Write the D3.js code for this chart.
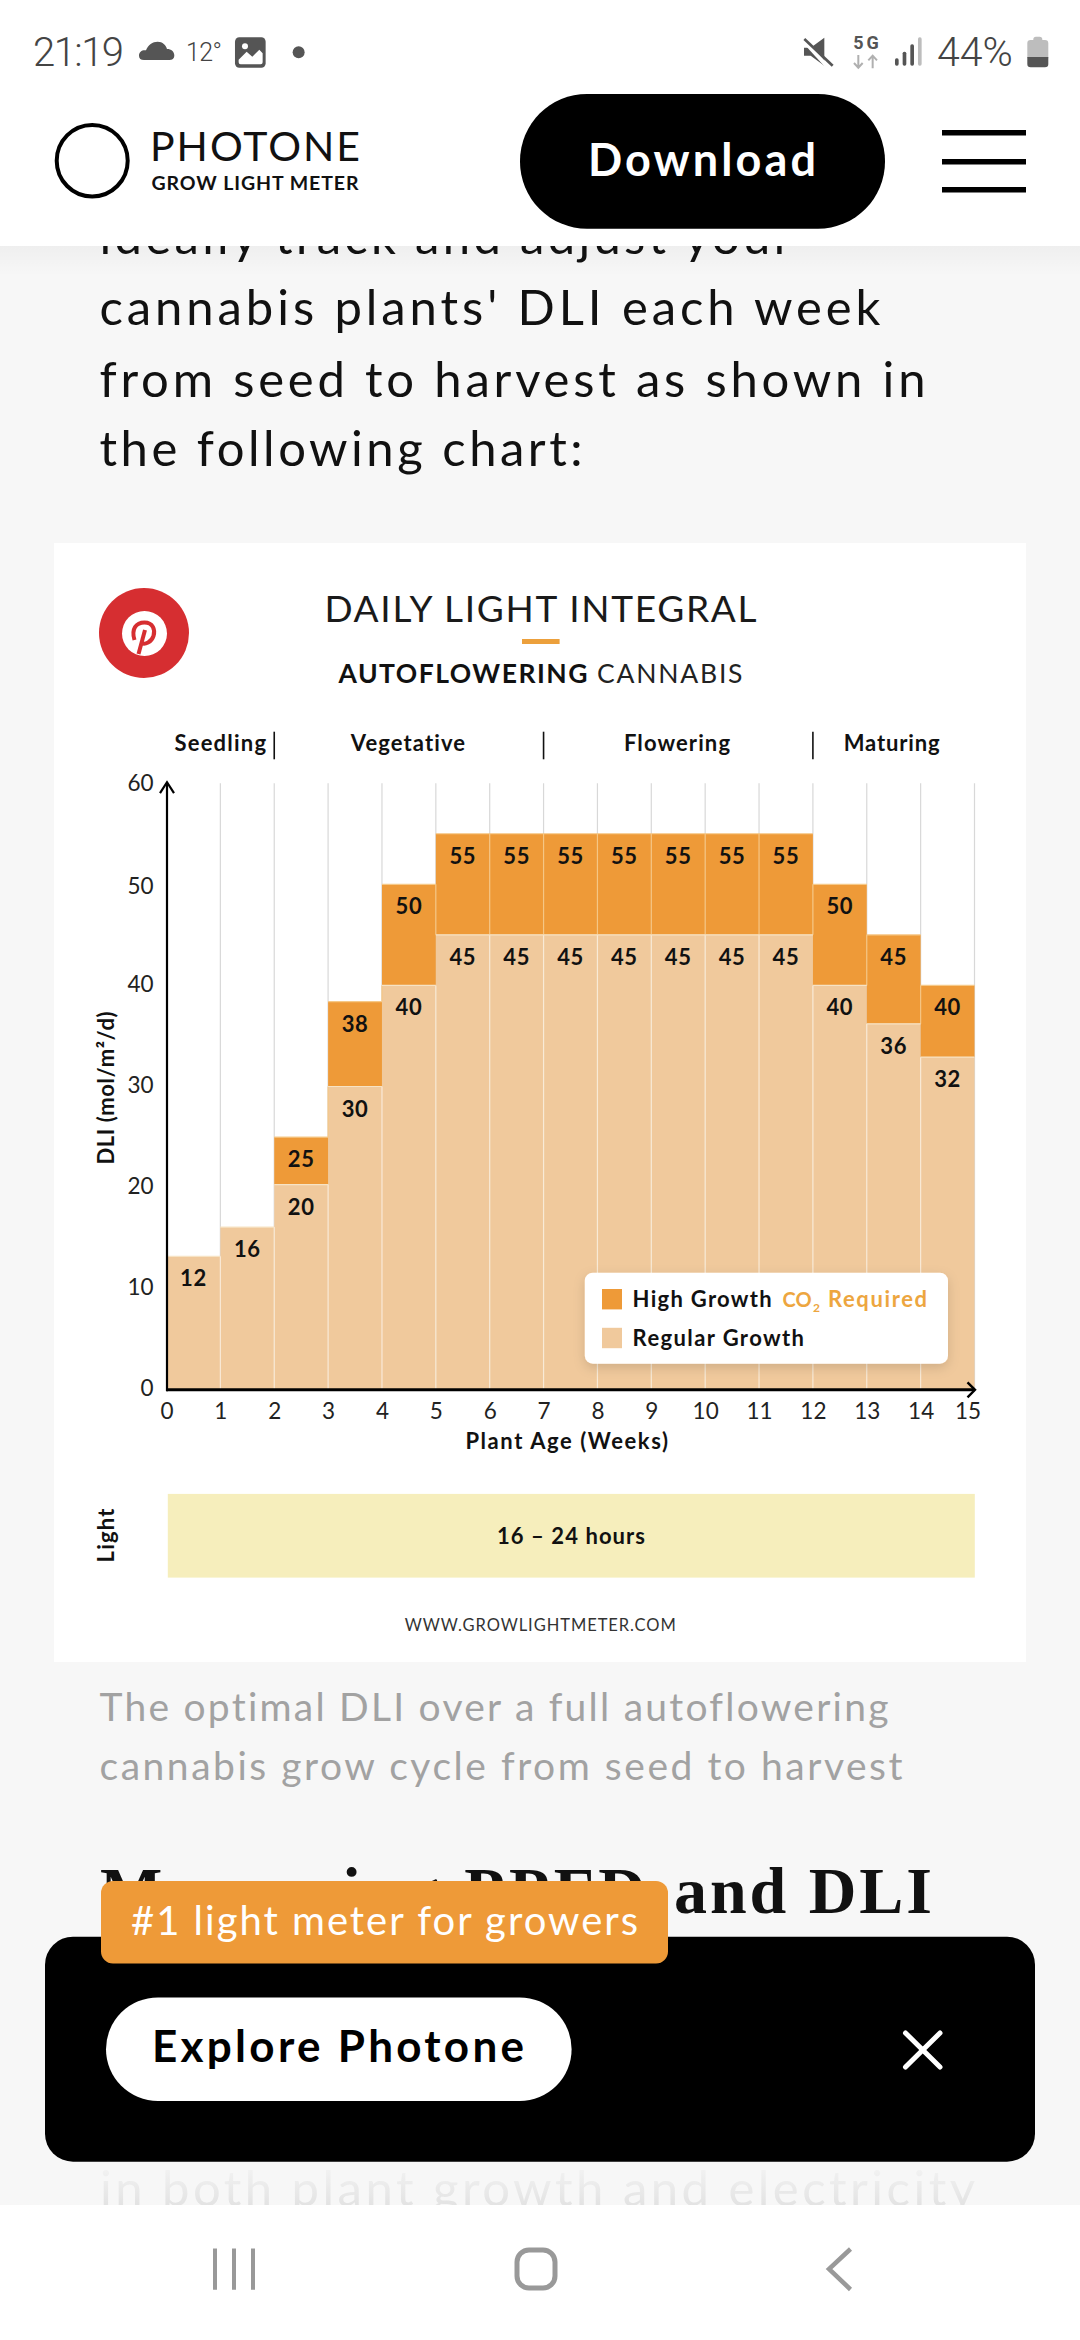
<!DOCTYPE html>
<html><head><meta charset="utf-8">
<style>html,body{margin:0;padding:0;background:#f7f7f7}svg{display:block}text{font-variant-ligatures:none}</style>
<script src="https://cdn.jsdelivr.net/npm/d3@7/dist/d3.min.js"></script>
</head><body><div id="c"></div>
<script>
// ---- data ----
const weeks = [0,1,2,3,4,5,6,7,8,9,10,11,12,13,14];
const regularTop = [13.2,16.1,20.3,30,40,45,45,45,45,45,45,45,40,36.2,32.9];
const highTop = [null,null,25,38.4,50,55,55,55,55,55,55,55,50,45,40];
const regularLabels = [12,16,20,30,40,45,45,45,45,45,45,45,40,36,32];
const highLabels = [null,null,25,38,50,55,55,55,55,55,55,55,50,45,40];
const xTicks = [0,1,2,3,4,5,6,7,8,9,10,11,12,13,14,15];
const yTicks = [0,10,20,30,40,50,60];
const phaseNames = ["Seedling","Vegetative","Flowering","Maturing"];
const phaseDividers = [2,7,12];
const bodyLines = ["ideally track and adjust your","cannabis plants' DLI each week","from seed to harvest as shown in","the following chart:"];
const captionLines = ["The optimal DLI over a full autoflowering","cannabis grow cycle from seed to harvest"];

// ---- layout ----
const SANS = "Lato, 'Noto Sans', sans-serif";
const C = {high:"#ee9a38", regular:"#f0c99c", ink:"#111", grid:"#d8d8d8"};
const svg = d3.select("#c").append("svg").attr("width",1080).attr("height",2340).attr("viewBox","0 0 1080 2340");
const defs = svg.append("defs");
const sh = defs.append("filter").attr("id","sh").attr("x","-10%").attr("y","-20%").attr("width","120%").attr("height","150%");
sh.append("feDropShadow").attr("dx",0).attr("dy",4).attr("stdDeviation",6).attr("flood-color","#000").attr("flood-opacity",.14);
const g1 = defs.append("linearGradient").attr("id","hs").attr("x1",0).attr("x2",0).attr("y1",0).attr("y2",1);
g1.append("stop").attr("offset",0).attr("stop-color","#000").attr("stop-opacity",.035);
g1.append("stop").attr("offset",1).attr("stop-color","#000").attr("stop-opacity",0);
const g2 = defs.append("linearGradient").attr("id","fade").attr("x1",0).attr("x2",0).attr("y1",0).attr("y2",1);
g2.append("stop").attr("offset",0).attr("stop-color","#f7f7f7").attr("stop-opacity",.9);
g2.append("stop").attr("offset",1).attr("stop-color","#f7f7f7").attr("stop-opacity",.2);

function T(p,str,x,y,o={}){
  const t = p.append("text").attr("x",x).attr("y",y).text(str)
    .attr("font-family",o.ff||SANS).attr("font-size",o.fs||20).attr("font-weight",o.fw||400)
    .attr("fill",o.fill||C.ink).attr("text-anchor",o.a||"start");
  if(o.len) t.attr("textLength",o.len).attr("lengthAdjust","spacing");
  return t;
}
function R(p,x,y,w,h,fill,r=0){return p.append("rect").attr("x",x).attr("y",y).attr("width",w).attr("height",h).attr("fill",fill).attr("rx",r).attr("ry",r);}

// page
R(svg,0,0,1080,2340,"#f7f7f7");
[[bodyLines[0],254,692],[bodyLines[1],325,781],[bodyLines[2],396.5,826],[bodyLines[3],466,483]].forEach(d=>{
  T(svg,d[0],99.5,d[1],{fs:49,len:d[2],fill:"#111"});
});

// card
R(svg,54,543,972,1119,"#fff");

const x = d3.scaleLinear().domain([0,15]).range([166.5,974.5]);
const y = d3.scaleLinear().domain([0,60]).range([1389.8,783.2]);
const chart = svg.append("g");

// titles
T(chart,"DAILY LIGHT INTEGRAL",540.5,621.7,{fs:37,fw:400,fill:"#1a1a1a",a:"middle",len:432});
R(chart,522,639,37.6,5,"#eca03c");
T(chart,"AUTOFLOWERING",338.5,682.7,{fs:26.5,fw:700,len:249});
T(chart,"CANNABIS",597,682.7,{fs:26.5,fw:400,fill:"#222",len:145.5});

// pinterest badge
const pin = chart.append("g");
pin.append("circle").attr("cx",144).attr("cy",633).attr("r",45).attr("fill","#d62e31");
pin.append("circle").attr("cx",144.5).attr("cy",633.5).attr("r",22.5).attr("fill","#fff");
pin.append("path").attr("d","M134.5,640 C131,629 136,622.5 144.5,622.5 C153,622.5 155.5,630 153.5,636 C151.5,642 145,645 141.5,643")
  .attr("fill","none").attr("stroke","#d62e31").attr("stroke-width",4);
pin.append("path").attr("d","M145,630 L138.5,654").attr("fill","none").attr("stroke","#d62e31").attr("stroke-width",4);

// phases
const phaseX = [[174.5,91.5],[350.8,114.2],[624,106],[843.7,96]];
phaseNames.forEach((n,i)=>T(chart,n,phaseX[i][0],751,{fs:22,fw:700,len:phaseX[i][1]}));
chart.selectAll("line.div").data(phaseDividers).join("line").attr("class","div")
  .attr("x1",d=>x(d)).attr("x2",d=>x(d)).attr("y1",731.7).attr("y2",759.3).attr("stroke","#111").attr("stroke-width",1.6);

// grid
chart.selectAll("line.grid").data(xTicks.slice(1)).join("line").attr("class","grid")
  .attr("x1",d=>x(d)).attr("x2",d=>x(d)).attr("y1",y(60)).attr("y2",y(0)).attr("stroke",C.grid).attr("stroke-width",1.2);

// bars
chart.selectAll("rect.reg").data(weeks).join("rect").attr("class","reg")
  .attr("x",d=>x(d)).attr("width",d=>x(d+1)-x(d)).attr("y",d=>y(regularTop[d])).attr("height",d=>y(0)-y(regularTop[d])).attr("fill",C.regular);
const highWeeks = weeks.filter(d=>highTop[d]!==null);
chart.selectAll("rect.high").data(highWeeks).join("rect").attr("class","high")
  .attr("x",d=>x(d)).attr("width",d=>x(d+1)-x(d)).attr("y",d=>y(highTop[d])).attr("height",d=>y(regularTop[d])-y(highTop[d])).attr("fill",C.high);
// pale edges
chart.selectAll("line.sepR").data(weeks.slice(0,14)).join("line").attr("class","sepR")
  .attr("x1",d=>x(d+1)).attr("x2",d=>x(d+1)).attr("y1",d=>y(regularTop[d]<regularTop[d+1]?regularTop[d]:regularTop[d+1])).attr("y2",y(0))
  .attr("stroke","#f9ead6").attr("stroke-width",1.2);
chart.selectAll("line.sepH").data(highWeeks.filter(d=>d<14&&highTop[d+1]!==null)).join("line").attr("class","sepH")
  .attr("x1",d=>x(d+1)).attr("x2",d=>x(d+1)).attr("y1",d=>y(Math.min(highTop[d],highTop[d+1]))).attr("y2",d=>y(Math.max(regularTop[d],regularTop[d+1])))
  .attr("stroke","#f5c684").attr("stroke-width",1.2);
chart.selectAll("line.topR").data(weeks).join("line").attr("class","topR")
  .attr("x1",d=>x(d)).attr("x2",d=>x(d+1)).attr("y1",d=>y(regularTop[d])).attr("y2",d=>y(regularTop[d])).attr("stroke","#f7e3c4").attr("stroke-width",1.2);
chart.selectAll("line.topH").data(highWeeks).join("line").attr("class","topH")
  .attr("x1",d=>x(d)).attr("x2",d=>x(d+1)).attr("y1",d=>y(highTop[d])).attr("y2",d=>y(highTop[d])).attr("stroke","#f6c988").attr("stroke-width",1.2);

// bar labels
const valStyle = s=>s.attr("text-anchor","middle").attr("font-family",SANS).attr("font-size",22).attr("font-weight",700).attr("fill","#111").attr("letter-spacing",.6);
valStyle(chart.selectAll("text.rv").data(weeks).join("text").attr("class","rv")
  .attr("x",d=>(x(d)+x(d+1))/2).attr("y",d=>y(regularTop[d])+30).text(d=>regularLabels[d]));
valStyle(chart.selectAll("text.hv").data(highWeeks).join("text").attr("class","hv")
  .attr("x",d=>(x(d)+x(d+1))/2).attr("y",d=>y(highTop[d])+30).text(d=>highLabels[d]));

// axes
const axB = chart.append("g").attr("transform",`translate(0,${y(0)})`)
  .call(d3.axisBottom(x).tickValues(xTicks).tickSize(0).tickPadding(12).tickFormat(d3.format("d")));
const axL = chart.append("g").attr("transform",`translate(${x(0)},0)`)
  .call(d3.axisLeft(y).tickValues(yTicks).tickSize(0).tickPadding(13).tickFormat(d3.format("d")));
[axB,axL].forEach(a=>{a.select(".domain").remove();
  a.selectAll("text").attr("font-family",SANS).attr("font-size",22.5).attr("fill","#222").attr("font-weight",400);});
axB.selectAll("text").attr("dy",null).attr("y",29);
axB.selectAll("text").filter(d=>d===15).attr("dx",-7);
axL.selectAll("text").attr("dy","0.34em").attr("y",d=>d===60?0:(d===50?1.7:-2));
chart.append("line").attr("x1",x(0)).attr("x2",x(15)).attr("y1",y(0)).attr("y2",y(0)).attr("stroke","#000").attr("stroke-width",3);
chart.append("line").attr("x1",x(0)+.5).attr("x2",x(0)+.5).attr("y1",y(60)).attr("y2",y(0)+1.5).attr("stroke","#000").attr("stroke-width",2.2);
chart.append("path").attr("d",`M${x(0)-6.5},${y(60)+10} L${x(0)+.5},${y(60)-1} L${x(0)+7.5},${y(60)+10}`).attr("fill","none").attr("stroke","#000").attr("stroke-width",2.2);
chart.append("path").attr("d",`M${x(15)-7},${y(0)-7.5} L${x(15)+.5},${y(0)} L${x(15)-7},${y(0)+7.5}`).attr("fill","none").attr("stroke","#000").attr("stroke-width",2.4);

T(chart,"Plant Age (Weeks)",465.4,1449,{fs:22,fw:700,len:202.6});
T(chart,"DLI (mol/m²/d)",0,0,{fs:22,fw:700,a:"middle",len:153}).attr("transform","translate(114,1088) rotate(-90)");

// legend
R(chart,584.8,1272.7,363.2,91,"#fff",8).attr("filter","url(#sh)");
R(chart,602,1289,20,20.4,C.high);
R(chart,602,1327.8,20,20.4,C.regular);
T(chart,"High Growth",632.6,1307.3,{fs:22,fw:700,len:139});
T(chart,"CO",782.6,1307.3,{fs:20,fw:700,fill:"#eda63f"});
T(chart,"2",813,1312,{fs:12,fw:700,fill:"#eda63f"});
T(chart,"Required",828,1307.3,{fs:22,fw:700,fill:"#eda63f",len:99});
T(chart,"Regular Growth",632.6,1346,{fs:22,fw:700,len:171.4});

// light band
R(chart,x(0)+1.3,1493.9,x(15)-x(0)-1,83.7,"#f6eebc");
T(chart,"16 – 24 hours",497,1544,{fs:22,fw:700,len:148});
T(chart,"Light",0,0,{fs:22,fw:700,a:"middle",len:54}).attr("transform","translate(114,1535.5) rotate(-90)");
T(chart,"WWW.GROWLIGHTMETER.COM",404.8,1631,{fs:16.5,fw:400,fill:"#333",len:271});

// below the card
T(svg,captionLines[0],99.5,1721,{fs:39,fill:"#a2a2a2",len:789});
T(svg,captionLines[1],99.5,1780,{fs:39,fill:"#a2a2a2",len:803});
const SERIF = "'Liberation Serif', serif";
T(svg,"Measuring PPFD",100,1913,{ff:SERIF,fs:66,fw:700,fill:"#111",len:546});
T(svg,"and DLI",674,1913,{ff:SERIF,fs:66,fw:700,fill:"#111",len:258});
T(svg,"in both plant growth and electricity",100,2206,{fs:49,fill:"#dedede",len:875});
R(svg,0,2162,1080,43,"url(#fade)");

// bottom banner
R(svg,45,1936.7,990,225,"#000",28);
R(svg,101,1881,567,82.5,C.high,12);
T(svg,"#1 light meter for growers",131,1935,{fs:40,fill:"#fff",len:507});
R(svg,106,1997.4,465.6,103.6,"#fff",52);
T(svg,"Explore Photone",152,2062,{fs:44,fw:700,fill:"#000",len:372});
svg.append("path").attr("d","M905.5,2033 L940,2067 M940,2033 L905.5,2067").attr("stroke","#fff").attr("stroke-width",5).attr("stroke-linecap","round");

// nav bar
R(svg,0,2205,1080,135,"#fff");
svg.append("path").attr("d","M215,2248.5 V2289.7 M234,2248.5 V2289.7 M253,2248.5 V2289.7").attr("stroke","#999").attr("stroke-width",4);
svg.append("rect").attr("x",517).attr("y",2250).attr("width",38).attr("height",38).attr("rx",12).attr("fill","none").attr("stroke","#999").attr("stroke-width",5);
svg.append("path").attr("d","M850.5,2249 L829,2269 L850.5,2289.5").attr("fill","none").attr("stroke","#999").attr("stroke-width",4.5);

// header
R(svg,0,246,1080,30,"url(#hs)");
R(svg,0,0,1080,246,"#fff");
svg.append("ellipse").attr("cx",92.2).attr("cy",160.7).attr("rx",35.5).attr("ry",35.8).attr("fill","none").attr("stroke","#000").attr("stroke-width",4);
T(svg,"PHOTONE",150,160.7,{fs:41,fw:400,fill:"#111",len:210});
T(svg,"GROW LIGHT METER",151.5,190,{fs:19.5,fw:700,fill:"#111",len:207});
R(svg,520,94,365,134.7,"#000",67);
T(svg,"Download",588,176,{fs:45,fw:700,fill:"#fff",len:228});
R(svg,942,130,84,5.5,"#000");R(svg,942,159,84,5.5,"#000");R(svg,942,187,84,5.5,"#000");

// status bar
const RB = "Roboto, sans-serif", ST = "#555";
T(svg,"21:19",33,65.7,{ff:RB,fs:40,fw:300,fill:"#444",len:91});
T(svg,"12°",186,61,{ff:RB,fs:25,fw:300,fill:"#444",len:36});
const sl = svg.append("g").attr("transform","translate(20,25) scale(.3333)");
sl.append("path").attr("fill",ST).attr("d","M357,92 C357,80 367,74 378,76 C384,60 398,50 413,50 C428,50 438,60 441,72 C454,72 463,80 463,92 C463,100 457,105 448,105 L372,105 C362,105 357,100 357,92 Z");
sl.append("rect").attr("x",645).attr("y",37).attr("width",92).attr("height",91).attr("rx",13).attr("fill",ST);
sl.append("circle").attr("cx",675).attr("cy",64).attr("r",9).attr("fill","#fff");
sl.append("path").attr("fill","#fff").attr("d","M656,104 L680,80 L697,95 L718,74 L728,85 L728,112 Q728,118 722,118 L662,118 Q656,118 656,112 Z");
sl.append("circle").attr("cx",836).attr("cy",82).attr("r",18).attr("fill",ST);
const sr = svg.append("g").attr("transform","translate(790,25) scale(.3333)");
sr.append("path").attr("fill",ST).attr("d","M42,68 L62,68 L103,38 L103,122 L62,92 L42,92 Z");
sr.append("path").attr("stroke","#fff").attr("stroke-width",12).attr("d","M35,40 L115,128").attr("fill","none");
sr.append("path").attr("stroke",ST).attr("stroke-width",8).attr("d","M43,42 L128,122").attr("fill","none");
T(sr,"5G",190,72,{ff:RB,fs:54,fw:700,fill:ST,len:76});
sr.append("path").attr("fill","none").attr("stroke","#b0b0b0").attr("stroke-width",6).attr("d","M205,90 V128 M192,114 L205,128 L218,114 M248,130 V92 M235,106 L248,92 L261,106");
[[315,100,ST],[338,80,ST],[361,58,ST],[384,37,"#bdbdbd"]].forEach(b=>{
  sr.append("rect").attr("x",b[0]).attr("y",b[1]).attr("width",11).attr("height",122-b[1]).attr("rx",5).attr("fill",b[2]);
});
T(svg,"44%",937,65.7,{ff:RB,fs:41,fw:300,fill:"#444"});
sr.append("path").attr("fill","#bdbdbd").attr("d","M730,43 Q730,35 738,35 L749,35 Q757,35 757,43 L757,45 L765,45 Q775,45 775,55 L775,100 L712,100 L712,55 Q712,45 722,45 L730,45 Z");
sr.append("path").attr("fill",ST).attr("d","M712,96 L775,96 L775,117 Q775,127 765,127 L722,127 Q712,127 712,117 Z");
</script></body></html>
